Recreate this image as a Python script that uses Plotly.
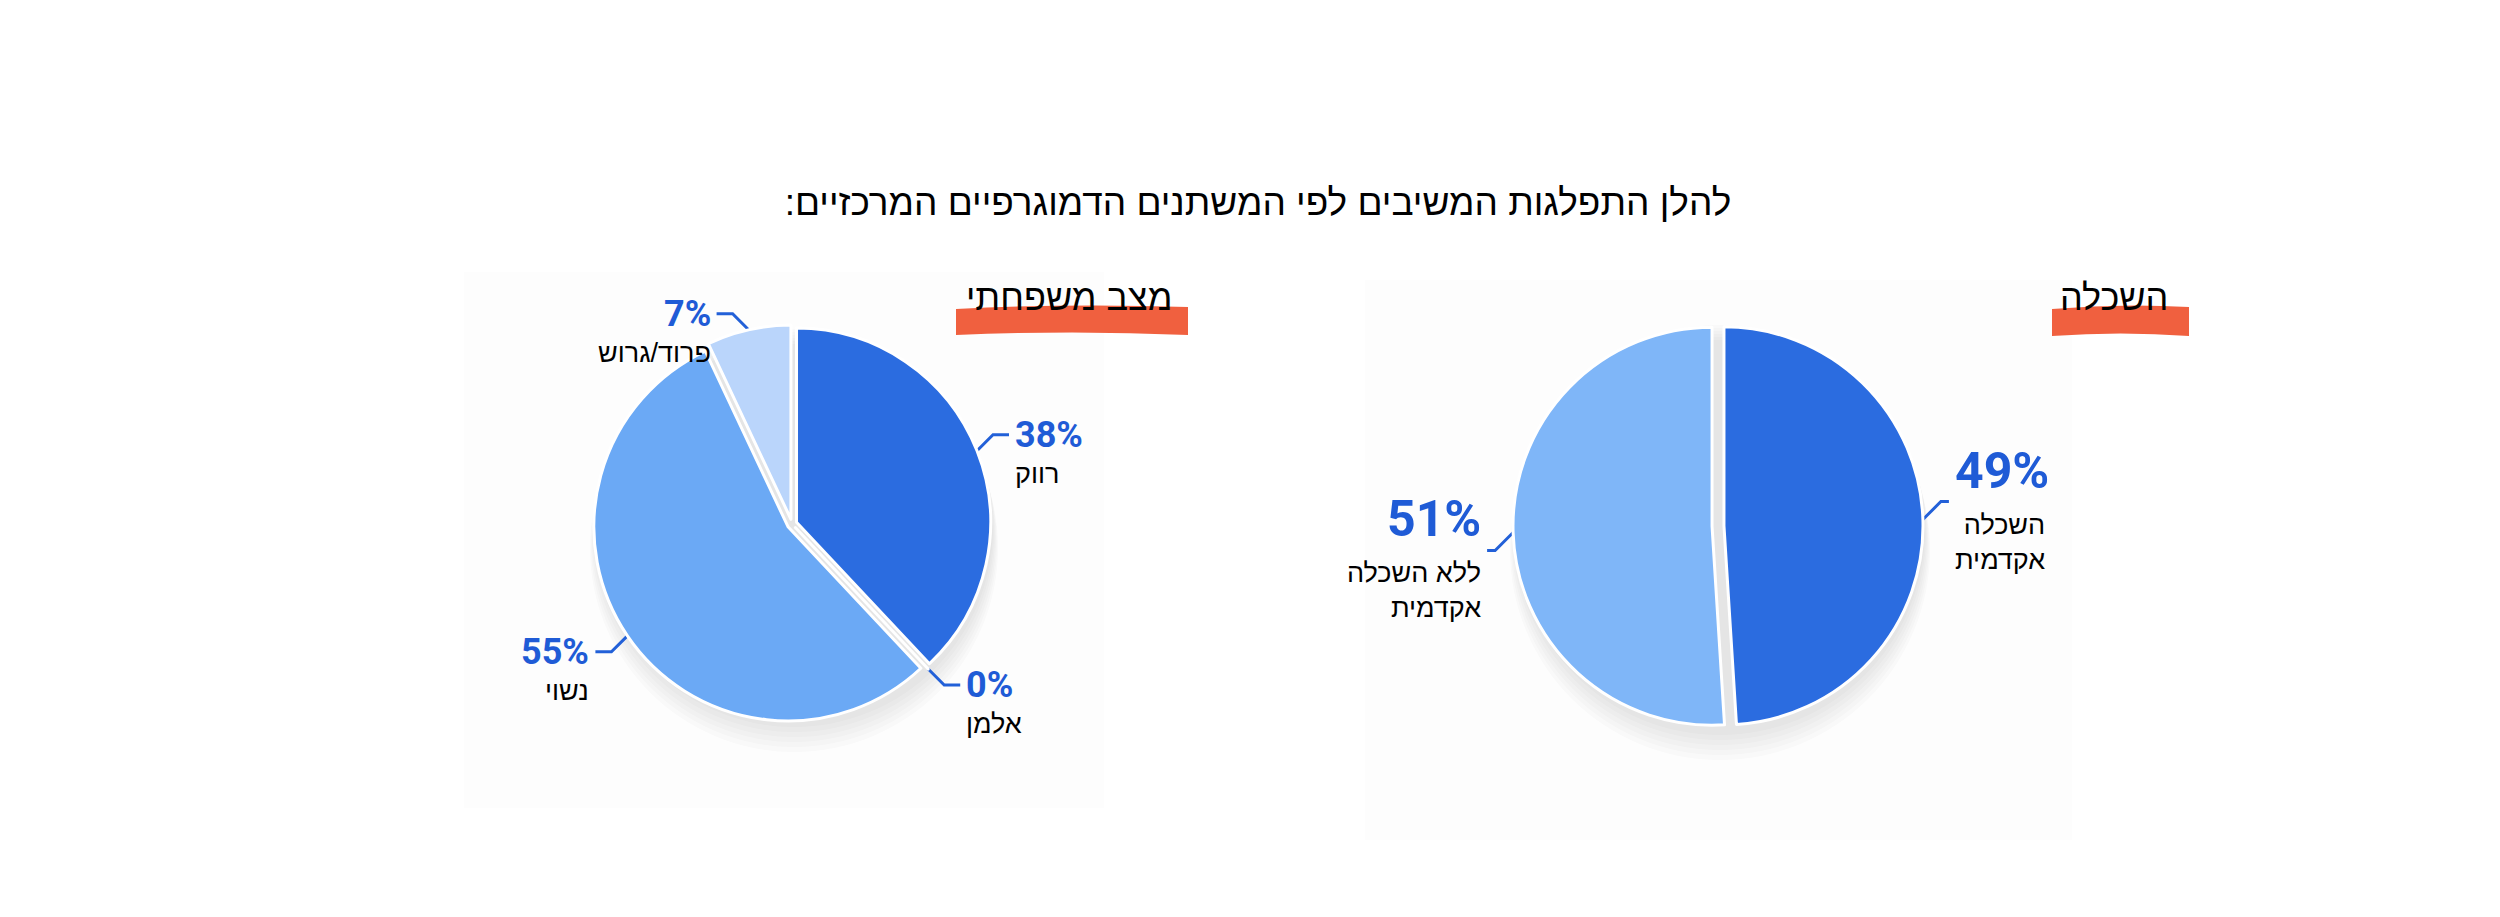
import math
import plotly.graph_objects as go

W, H = 2500, 917

# textos y datos
titulo = "להלן התפלגות המשיבים לפי המשתנים הדמוגרפיים המרכזיים:\u200f"

maritalTitle = "מצב משפחתי"
maritalLabels = ["רווק", "אלמן", "נשוי", "פרוד/גרוש"]
maritalValues = [38, 0, 55, 7]

educationTitle = "השכלה"
educationLabels = ["השכלה<br>אקדמית", "ללא השכלה<br>אקדמית"]
educationValues = [49, 51]

HEB_FONT = "Liberation Sans, DejaVu Sans, sans-serif"
PCT_FONT = "Roboto, Liberation Sans, sans-serif"
LEADER = "#2260d8"
PCT_COLOR = "#1f5bd6"
ORANGE = "#f0603f"

# estilo y posicion de cada grafica (pixeles)
leftCfg = dict(cx=784, cy=516, r=199, pull=0.025,
               colors=["#2b6ce0", "#2b6ce0", "#6ba9f5", "#bad5fb"],
               pctSize=36, pctAnchor="middle", labelGap=22, k=16, h=16,
               box=(456, 264, 1096, 800), head=(1166, 289), bar=(948, 298, 1180, 327))
rightCfg = dict(cx=1710, cy=518, r=205, pull=0.03,
                colors=["#2b6ce0", "#7fb6f8"],
                pctSize=50, pctAnchor="bottom", labelGap=6, k=18, h=8,
                box=(1357, 272, 2064, 832), head=(2162, 289), bar=(2044, 298, 2181, 328))


def agregarPie(fig, titleText, labels, values, cfg):
    cx, cy, r = cfg["cx"], cfg["cy"], cfg["r"]
    # panel de fondo (casi invisible)
    x0, y0, x1, y1 = cfg["box"]
    fig.add_shape(type="rect", x0=x0, y0=y0, x1=x1, y1=y1, layer="below",
                  fillcolor="rgba(0,0,0,0.008)", line=dict(width=0))
    # sombra suave
    for i in range(6):
        off = 4 + 4 * i
        extra = i
        fig.add_shape(type="circle", x0=cx - r - extra + 2, x1=cx + r + extra + 2,
                      y0=cy - r - extra + off, y1=cy + r + extra + off, layer="below",
                      fillcolor="rgba(40,40,60,0.018)", line=dict(width=0))

    # marcador naranja del titulo
    bx0, by0, bx1, by1 = cfg["bar"]
    bm = (bx0 + bx1) / 2
    fig.add_shape(type="path", layer="above",
                  path="M %s,%s Q %s,%s %s,%s L %s,%s Q %s,%s %s,%s Z" % (
                      bx0, by0 + 3, bm, by0 - 3, bx1, by0 + 1, bx1, by1,
                      bm, by1 - 5, bx0, by1),
                  fillcolor=ORANGE, line=dict(width=0))
    hx, hy = cfg["head"]
    fig.add_annotation(x=hx, y=hy, text=titleText, showarrow=False,
                       xanchor="right", yanchor="middle",
                       font=dict(family=HEB_FONT, size=36, color="black"))

    fig.add_trace(go.Pie(
        values=values, labels=labels, sort=False, direction="clockwise", rotation=0,
        marker=dict(colors=cfg["colors"], line=dict(color="white", width=3)),
        pull=[cfg["pull"]] * len(values), textinfo="none", showlegend=False,
        hoverinfo="label+percent",
        domain=dict(x=[(cx - r) / W, (cx + r) / W],
                    y=[(H - cy - r) / H, (H - cy + r) / H])))

    # etiquetas con lineas guia
    total = sum(values)
    acum = 0
    for lab, v in zip(labels, values):
        ang = (acum + v / 2) / total * 2 * math.pi
        acum += v
        s, c = math.sin(ang), math.cos(ang)
        sx = 1 if s >= 0 else -1
        sy = -1 if c > 0 else 1
        p0 = (cx + r * s, cy - r * c)
        p1 = (p0[0] + sx * cfg["k"], p0[1] + sy * cfg["k"])
        p2 = (p1[0] + sx * cfg["h"], p1[1])
        fig.add_trace(go.Scatter(x=[p0[0], p1[0], p2[0]], y=[p0[1], p1[1], p2[1]],
                                 mode="lines", line=dict(color=LEADER, width=3),
                                 hoverinfo="skip", showlegend=False))
        tx = p2[0] + sx * 4
        anchor = "left" if sx > 0 else "right"
        fig.add_annotation(x=tx, y=p2[1], text="<b>%d%%</b>" % v, showarrow=False,
                           xanchor=anchor, yanchor=cfg["pctAnchor"],
                           font=dict(family=PCT_FONT, size=cfg["pctSize"], color=PCT_COLOR))
        fig.add_annotation(x=tx, y=p2[1] + cfg["labelGap"], text=lab, showarrow=False,
                           align="right", xanchor=anchor, yanchor="top",
                           font=dict(family=HEB_FONT, size=27, color="black"))


fig = go.Figure()
agregarPie(fig, maritalTitle, maritalLabels, maritalValues, leftCfg)
agregarPie(fig, educationTitle, educationLabels, educationValues, rightCfg)

fig.update_layout(
    width=W, height=H,
    margin=dict(l=0, r=0, t=0, b=0),
    paper_bgcolor="white", plot_bgcolor="white",
    xaxis=dict(range=[0, W], visible=False, fixedrange=True),
    yaxis=dict(range=[H, 0], visible=False, fixedrange=True),
    title=dict(text=titulo, x=0.5, xanchor="center", y=1 - 194 / H, yanchor="middle",
               font=dict(family=HEB_FONT, size=37, color="black")),
)

fig.write_html("out.html")
